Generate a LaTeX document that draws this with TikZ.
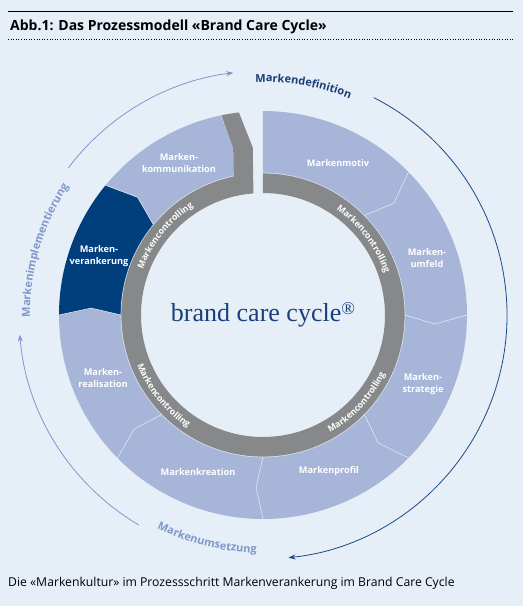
\documentclass[tikz,border=0pt]{standalone}
\usepackage{fontspec}
\setmainfont{Open Sans}
\newfontfamily\brandfont{Liberation Serif}
\usetikzlibrary{arrows.meta,decorations.text}
\definecolor{bg}{HTML}{E6EEF7}
\definecolor{seg}{HTML}{A7B5D8}
\definecolor{segdark}{HTML}{003E7C}
\definecolor{ctrl}{HTML}{878889}
\definecolor{navy}{HTML}{1B3F7A}
\definecolor{arcdark}{HTML}{1B4A82}
\definecolor{arclight}{HTML}{7F97CC}
\newcommand\ctrlfont{\color{white}\fontsize{8.8}{8.8}\selectfont\bfseries}
\newcommand\outerfont{\fontsize{11}{11}\selectfont\bfseries}
\newcommand\brseg[5]{\fill[#5] (#1:142) -- (#1-#2:172) -- (#1:204) arc[start angle=#1,end angle=#3,radius=204] -- (#3-#4:172) -- (#3:142) arc[start angle=#3,end angle=#1,radius=142] -- cycle;}
\newcommand\brline[2]{\draw[segline] (#1:142) -- (#1-#2:172) -- (#1:204);}
\begin{document}
\begin{tikzpicture}[x=1pt,y=1pt,
  seglabel/.style={text=white,font=\fontsize{9.2}{11.8}\selectfont\bfseries,align=center,inner sep=0},
  segline/.style={draw=white!65!seg,line width=0.6pt},
  cyclearrow/.style={line width=0.8pt,-{Stealth[length=7pt,width=5pt]}}]
\fill[bg] (-263,-291) rectangle (260,315);
\useasboundingbox (-263,-291) rectangle (260,315);

% title and rules
\draw[line width=1pt] (-255,303) -- (250,303);
\draw[dotted,line width=0.6pt] (-255,276) -- (250,276);
\node[anchor=base west,font=\fontsize{14}{16}\selectfont\bfseries,inner sep=0] (title) at (-253,284) {Abb.1: Das Prozessmodell «Brand Care Cycle»};
\node[anchor=base west,font=\fontsize{12.2}{14}\selectfont,inner sep=0] (caption) at (-255,-271) {Die «Markenkultur» im Prozessschritt Markenverankerung im Brand Care Cycle};

% segments
\brseg{90}{0}{44.5}{4}{seg}
\brseg{44.5}{4}{0}{3}{seg}
\brseg{0}{3}{-44.5}{3.5}{seg}
\brseg{-44.5}{3.5}{-90}{2.3}{seg}
\brseg{-90}{2.3}{-135.5}{3}{seg}
\brseg{-135.5}{3}{-180}{2.3}{seg}
\brseg{180}{2.3}{140.5}{3.7}{segdark}
\brseg{140.5}{3.7}{102}{1.9}{seg}
\brline{44.5}{4}
\brline{0}{3}
\brline{-44.5}{3.5}
\brline{-90}{2.3}
\brline{-135.5}{3}
\brline{180}{2.3}
\brline{140.5}{3.7}
\draw[segline] (90:142) arc[start angle=90,end angle=-258,radius=142];

% controlling ring with chevron end
\fill[ctrl] (90:122) -- (90:141.6) arc[start angle=90,end angle=-258,radius=141.6] -- (100.1:170) -- (101.8:204) arc[start angle=101.8,end angle=96.8,radius=204] -- (93.5:168) -- (94.5:122) arc[start angle=94.5,end angle=450,radius=122] -- cycle;

\path[decorate,decoration={text along path,text align=center,text={|\ctrlfont|Markencontrolling}}] (62:128.5) arc[start angle=62,end angle=12,radius=128.5];
\path[decorate,decoration={text along path,text align=center,text={|\ctrlfont|Markencontrolling}}] (166:128.5) arc[start angle=166,end angle=116,radius=128.5];
\path[decorate,decoration={text along path,text align=center,text={|\ctrlfont|Markencontrolling}}] (-166:135.5) arc[start angle=-166,end angle=-116,radius=135.5];
\path[decorate,decoration={text along path,text align=center,text={|\ctrlfont|Markencontrolling}}] (-68:135.5) arc[start angle=-68,end angle=-18,radius=135.5];

% segment labels
\node[seglabel] (motiv) at (75,152) {Markenmotiv};
\node[seglabel] (umfeld) at (164,57) {Marken-\\umfeld};
\node[seglabel] (strategie) at (160,-69) {Marken-\\strategie};
\node[seglabel] (profil) at (66,-156) {Markenprofil};
\node[seglabel] (kreation) at (-65,-157) {Markenkreation};
\node[seglabel] (realisation) at (-160,-63) {Marken-\\realisation};
\node[seglabel] (verankerung) at (-164,59) {Marken-\\verankerung};
\node[seglabel] (kommunikation) at (-84,152) {Marken-\\kommunikation};

% centre title
\node[anchor=base,font=\brandfont\fontsize{26}{30}\selectfont,text=navy,inner sep=0] (brand) at (0,-6) {brand care cycle\raisebox{0.55ex}{\fontsize{18}{18}\selectfont ®}};

% outer cycle arrows
\draw[cyclearrow,arcdark] (63:244) arc[start angle=63,end angle=-84,radius=244];
\draw[cyclearrow,arclight] (-120.6:244) arc[start angle=-120.6,end angle=-175.4,radius=244];
\draw[cyclearrow,arclight] (143:244) arc[start angle=143,end angle=97,radius=244];

\path[decorate,decoration={text along path,text align=center,text={|\outerfont\color{navy}|Markendefinition}}] (105:233) arc[start angle=105,end angle=55,radius=233];
\path[decorate,decoration={text along path,text align=center,text={|\outerfont\color{arclight}|Markenimplementierung}}] (195:233) arc[start angle=195,end angle=132,radius=233];
\path[decorate,decoration={text along path,text align=center,text={|\outerfont\color{arclight}|Markenumsetzung}}] (-130:238) arc[start angle=-130,end angle=-78,radius=238];
\end{tikzpicture}
\end{document}
